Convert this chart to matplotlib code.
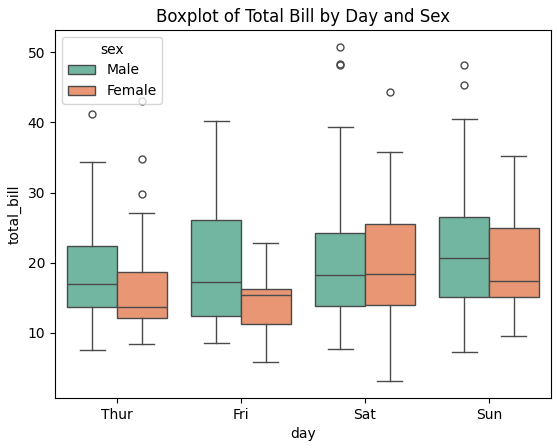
import numpy as np
import matplotlib
matplotlib.use("Agg")
import matplotlib.pyplot as plt
from matplotlib.patches import Patch
import seaborn as sns

# ===============================
# DATA (box statistics)
# ===============================
days = ["Thur", "Fri", "Sat", "Sun"]
sexes = ["Male", "Female"]

male_whislo = [7.51, 8.58, 7.74, 7.25]
male_q1 = [13.70, 12.32, 13.84, 15.12]
male_med = [16.97, 17.30, 18.24, 20.72]
male_q3 = [22.38, 26.07, 24.22, 26.50]
male_whishi = [34.30, 40.17, 39.42, 40.55]
male_fliers = [[41.19], [], [50.81, 48.33, 48.27], [48.17, 45.35]]

female_whislo = [8.35, 5.75, 3.07, 9.60]
female_q1 = [12.13, 11.28, 13.93, 15.12]
female_med = [13.70, 15.40, 18.36, 17.41]
female_q3 = [18.72, 16.26, 25.50, 24.94]
female_whishi = [27.05, 22.75, 35.83, 35.26]
female_fliers = [[43.11, 34.83, 29.80], [], [44.30], []]

# ===============================
# PLOT
# ===============================
pal = sns.color_palette("Set2", 2)
colors = [sns.desaturate(c, 0.75) for c in pal]
line_col = "#4a4a4a"
lw = 1.0

fig, ax = plt.subplots(figsize=(5.58, 4.48), dpi=100)
fig.subplots_adjust(left=0.0986, right=0.9875, top=0.933, bottom=0.1116)

groups = [
    (male_whislo, male_q1, male_med, male_q3, male_whishi, male_fliers, -0.2),
    (female_whislo, female_q1, female_med, female_q3, female_whishi, female_fliers, 0.2),
]

for i, (lo, q1, med, q3, hi, fl, off) in enumerate(groups):
    stats = []
    for j in range(len(days)):
        stats.append({"whislo": lo[j], "q1": q1[j], "med": med[j], "q3": q3[j],
                      "whishi": hi[j], "fliers": fl[j]})
    positions = np.arange(len(days)) + off
    ax.bxp(stats, positions=positions, widths=0.4, patch_artist=True,
           manage_ticks=False,
           boxprops=dict(facecolor=colors[i], edgecolor=line_col, linewidth=lw),
           medianprops=dict(color=line_col, linewidth=lw),
           whiskerprops=dict(color=line_col, linewidth=lw),
           capprops=dict(color=line_col, linewidth=lw),
           capwidths=0.2,
           flierprops=dict(marker="o", markerfacecolor="none", markeredgewidth=1.0,
                           markeredgecolor=line_col, markersize=5, linewidth=0))

ax.set_xlim(-0.5, len(days) - 0.5)
ax.set_xticks(np.arange(len(days)))
ax.set_xticklabels(days)
ax.set_xlabel("day")
ax.set_ylabel("total_bill")
ax.set_title("Boxplot of Total Bill by Day and Sex")

handles = [Patch(facecolor=colors[k], edgecolor=line_col, linewidth=lw, label=s)
           for k, s in enumerate(sexes)]
ax.legend(handles=handles, title="sex", loc="upper left")

plt.savefig("out.png", dpi=100)
